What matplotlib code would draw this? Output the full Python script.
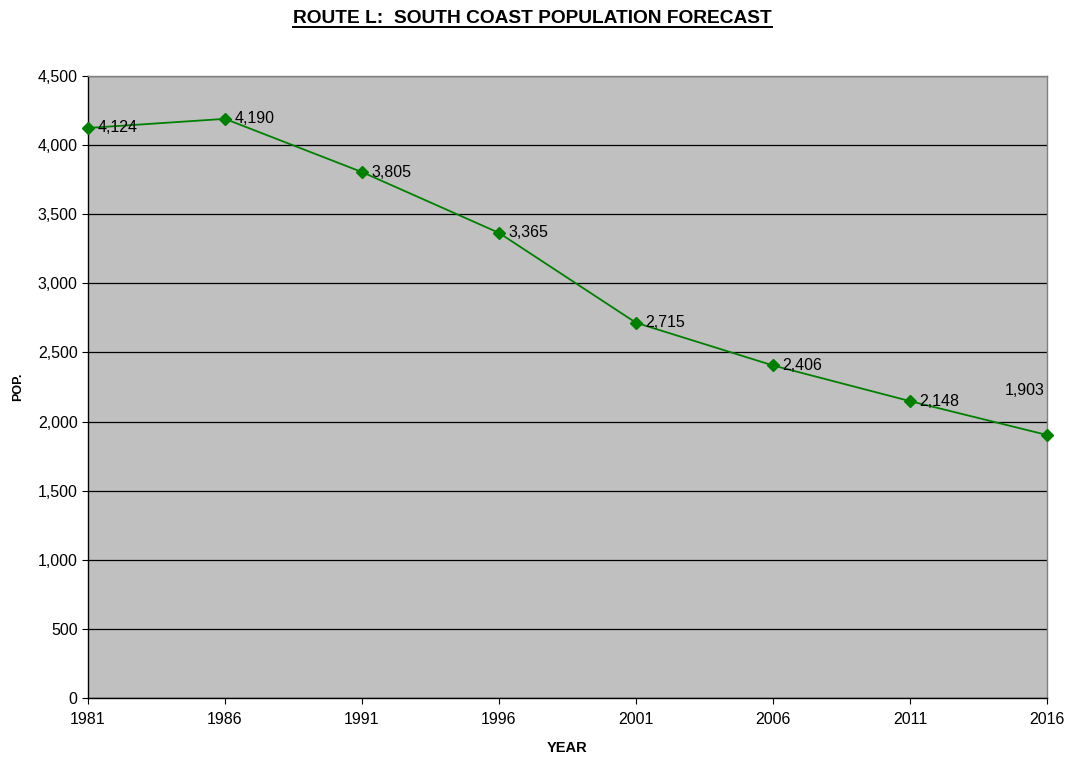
import matplotlib
matplotlib.use("Agg")
import matplotlib.pyplot as plt
from matplotlib.ticker import FuncFormatter

years = [1981, 1986, 1991, 1996, 2001, 2006, 2011, 2016]
population = [4124, 4190, 3805, 3365, 2715, 2406, 2148, 1903]
y_ticks = [0, 500, 1000, 1500, 2000, 2500, 3000, 3500, 4000, 4500]

plt.rcParams['font.family'] = ['Liberation Sans', 'DejaVu Sans']

fig = plt.figure(figsize=(10.65, 7.57), dpi=100)
ax = fig.add_axes([0.0826, 0.0779, 0.9005, 0.8217])
ax.set_facecolor('#C0C0C0')

ax.set_xlim(years[0], years[-1])
ax.set_ylim(0, 4500)
ax.set_yticks(y_ticks)
ax.set_xticks(years)
ax.yaxis.set_major_formatter(FuncFormatter(lambda v, p: f"{int(v):,}"))
ax.grid(axis='y', color='#000000', linewidth=0.9)
ax.set_axisbelow(True)

ax.plot(years, population, color='#008000', linewidth=1.3, marker='D',
        markersize=6, markerfacecolor='#008000', markeredgecolor='#008000',
        clip_on=False, zorder=3)

for i, (x, y) in enumerate(zip(years, population)):
    label = f"{y:,}"
    if i == len(years) - 1:
        ax.annotate(label, (x, y), xytext=(-2, 32), textcoords='offset points',
                    ha='right', va='center', fontsize=11.5)
    else:
        ax.annotate(label, (x, y), xytext=(7, 0), textcoords='offset points',
                    ha='left', va='center', fontsize=11.5)

for side in ['left', 'bottom']:
    ax.spines[side].set_color('#000000')
    ax.spines[side].set_linewidth(1.0)
for side in ['top', 'right']:
    ax.spines[side].set_color('#808080')
    ax.spines[side].set_linewidth(1.0)

ax.tick_params(axis='both', direction='out', length=4, width=0.8,
               labelsize=11.5, colors='#000000')
ax.tick_params(axis='x', pad=6)

ax.set_xlabel('YEAR', fontsize=10.5, fontweight='bold', labelpad=10)
ax.set_ylabel('POP.', fontsize=9, fontweight='bold', labelpad=10)

title = fig.text(0.5, 0.975, 'ROUTE L:  SOUTH COAST POPULATION FORECAST',
                 ha='center', va='center', fontsize=13.8, fontweight='bold')
fig.canvas.draw()
bb = title.get_window_extent()
fig.add_artist(plt.Line2D([bb.x0 / fig.bbox.width, bb.x1 / fig.bbox.width],
                          [(bb.y0 + 0.5) / fig.bbox.height] * 2,
                          color='black', linewidth=1.4,
                          transform=fig.transFigure))

fig.savefig('out.png', dpi=100)
